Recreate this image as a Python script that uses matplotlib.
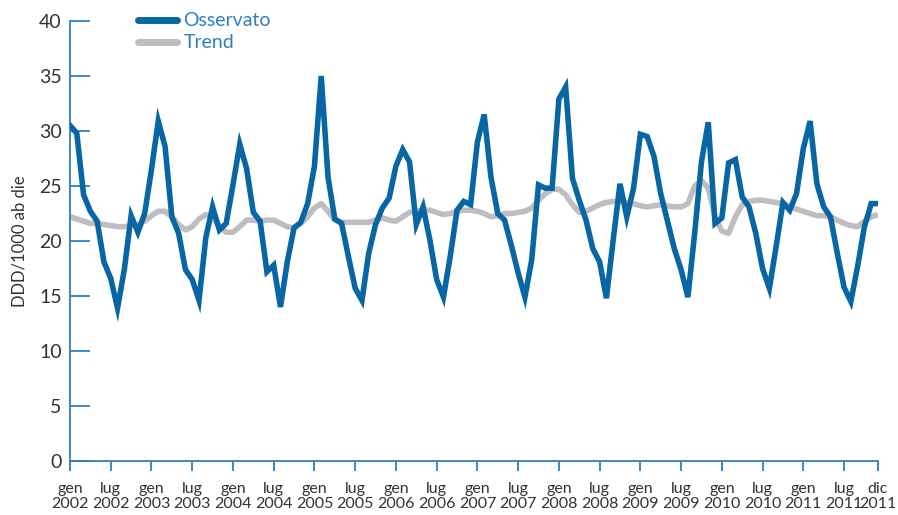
import numpy as np
import matplotlib
matplotlib.use('Agg')
from matplotlib import pyplot as plt

# monthly values, gen 2002 .. dic 2011
osservato = [30.5, 29.8, 24.2, 22.7, 21.8, 18.1, 16.6, 13.9, 17.4, 22.3, 20.8, 22.5,
             26.5, 30.9, 28.6, 22.2, 20.7, 17.4, 16.5, 14.6, 20.3, 23.1, 21.0, 21.6,
             25.1, 28.8, 26.6, 22.6, 21.8, 17.2, 17.8, 14.0, 18.1, 21.2, 21.7, 23.4,
             26.8, 35.0, 25.8, 22.0, 21.6, 18.6, 15.7, 14.6, 18.9, 21.5, 23.0, 23.9,
             26.8, 28.3, 27.2, 21.5, 23.1, 20.1, 16.5, 14.9, 18.6, 22.8, 23.6, 23.3,
             29.0, 31.5, 25.8, 22.5, 21.9, 19.6, 17.1, 14.9, 18.3, 25.1, 24.8, 24.8,
             32.9, 34.0, 25.7, 23.7, 21.9, 19.3, 18.1, 14.8, 20.1, 25.2, 22.2, 24.8,
             29.7, 29.5, 27.7, 24.3, 21.8, 19.3, 17.4, 14.9, 20.7, 27.2, 30.8, 21.6,
             22.1, 27.1, 27.4, 24.0, 23.1, 20.7, 17.5, 15.7, 19.5, 23.5, 22.8, 24.3,
             28.4, 30.9, 25.2, 23.1, 22.2, 18.9, 15.8, 14.5, 17.7, 21.3, 23.4, 23.4]

trend = [22.2, 22.0, 21.8, 21.6, 21.6, 21.5, 21.4, 21.3, 21.3, 21.4, 21.5, 21.8,
         22.3, 22.7, 22.7, 22.2, 21.5, 21.0, 21.3, 22.0, 22.4, 22.2, 21.3, 20.8,
         20.8, 21.3, 21.9, 21.9, 21.8, 21.9, 21.9, 21.6, 21.3, 21.2, 21.6, 22.2,
         23.0, 23.4, 22.7, 21.9, 21.7, 21.7, 21.7, 21.7, 21.7, 21.9, 22.1, 21.9,
         21.8, 22.2, 22.6, 22.7, 22.8, 22.8, 22.6, 22.4, 22.5, 22.7, 22.8, 22.8,
         22.7, 22.5, 22.2, 22.3, 22.5, 22.5, 22.6, 22.7, 23.0, 23.7, 24.3, 24.7,
         24.7, 24.2, 23.3, 22.6, 22.7, 23.0, 23.3, 23.5, 23.6, 23.6, 23.5, 23.4,
         23.2, 23.1, 23.2, 23.3, 23.2, 23.1, 23.1, 23.4, 25.0, 25.5, 24.8, 22.2,
         20.9, 20.7, 22.2, 23.3, 23.6, 23.7, 23.7, 23.6, 23.5, 23.4, 23.1, 22.9,
         22.7, 22.5, 22.3, 22.3, 22.2, 21.9, 21.6, 21.4, 21.3, 21.8, 22.2, 22.4]

anni = list(range(2002, 2012))
tick_pos = []
tick_lab = []
for k, a in enumerate(anni):
    tick_pos += [k * 12, k * 12 + 6]
    tick_lab += ['gen\n%d' % a, 'lug\n%d' % a]
tick_pos.append(119)
tick_lab.append('dic\n2011')

blu = '#0866a5'
grigio = '#bebec2'
asse = '#2f7fbf'
testo = '#333333'

plt.rcParams['font.family'] = ['Lato', 'DejaVu Sans']

fig = plt.figure(figsize=(8.98, 5.15), dpi=100)
ax = fig.add_axes([70 / 898, 1 - 461 / 515, 808 / 898, 440 / 515])

x = np.arange(len(osservato))
ax.plot(x, trend, color=grigio, lw=4, label='Trend', solid_capstyle='butt', zorder=2)
ax.plot(x, osservato, color=blu, lw=4, label='Osservato', solid_joinstyle='miter', zorder=3)

ax.set_xlim(0, 119)
ax.set_ylim(0, 40)

for s in ['top', 'right']:
    ax.spines[s].set_visible(False)
for s in ['left', 'bottom']:
    ax.spines[s].set_color(asse)
    ax.spines[s].set_linewidth(1.3)

ax.set_yticks(range(0, 41, 5))
ax.tick_params(axis='y', direction='in', length=14.4, width=1.3, color=asse,
               labelsize=14, labelcolor=testo, pad=6)
ax.set_xticks(tick_pos)
ax.set_xticklabels(tick_lab, linespacing=1.08)
ax.tick_params(axis='x', direction='out', length=7, width=1.3, color=asse,
               labelsize=11.5, labelcolor=testo, pad=8)

ax.set_ylabel('DDD/1000 ab die', fontsize=12, color=testo, labelpad=8)

h, l = ax.get_legend_handles_labels()
leg = ax.legend(h[::-1], l[::-1], loc='upper left', bbox_to_anchor=(60 / 808, 1.037),
                frameon=False, fontsize=14, labelcolor=asse, handlelength=2.0,
                handletextpad=0.35, labelspacing=0.25, borderaxespad=0)
for ln in leg.get_lines():
    ln.set_linewidth(5)
    ln.set_solid_capstyle('round')

fig.savefig('out.png', dpi=100)
